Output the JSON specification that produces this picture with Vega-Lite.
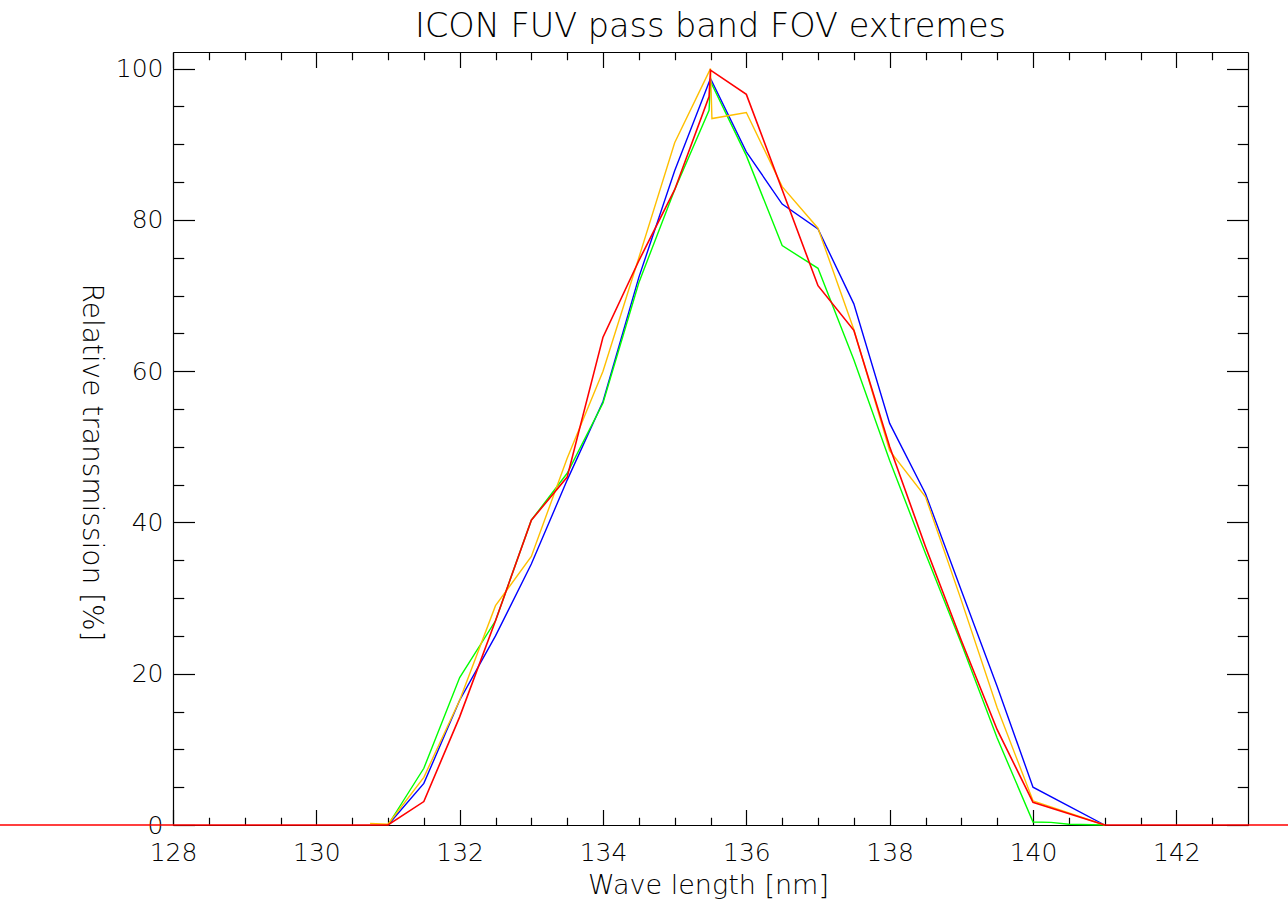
{
  "$schema": "https://vega.github.io/schema/vega-lite/v6.json",
  "width": 1075,
  "height": 773,
  "autosize": {"type": "none"},
  "padding": {"left": 173, "top": 52, "right": 40, "bottom": 78},
  "background": "white",
  "title": {"text": "ICON FUV pass band FOV extremes", "anchor": "middle", "fontSize": 33.5, "font": "DejaVu Sans", "fontWeight": 200, "color": "#000000", "offset": 7},
  "config": {
    "view": {"stroke": null},
    "axis": {"grid": false, "domainColor": "#000000", "tickColor": "#000000", "labelColor": "#000000", "titleColor": "#000000", "labelFont": "DejaVu Sans", "titleFont": "DejaVu Sans", "labelFontWeight": 200, "titleFontWeight": 200, "labelFontSize": 25, "titleFontSize": 27, "domainWidth": 1.2, "tickWidth": 1.2, "labelOverlap": false, "labelFlush": false}
  },
  "datasets": {
    "blue": [
      {"wavelength": 131, "transmission": 0}, {"wavelength": 131.5, "transmission": 5.5}, {"wavelength": 132, "transmission": 16.5}, {"wavelength": 132.5, "transmission": 25.0}, {"wavelength": 133, "transmission": 34.5}, {"wavelength": 133.5, "transmission": 45.6}, {"wavelength": 134, "transmission": 56.0}, {"wavelength": 134.5, "transmission": 72.4}, {"wavelength": 135, "transmission": 86.5}, {"wavelength": 135.5, "transmission": 98.7}, {"wavelength": 136, "transmission": 89.0}, {"wavelength": 136.5, "transmission": 82.1}, {"wavelength": 137, "transmission": 78.8}, {"wavelength": 137.5, "transmission": 68.9}, {"wavelength": 138, "transmission": 53.1}, {"wavelength": 138.5, "transmission": 43.8}, {"wavelength": 139, "transmission": 31.0}, {"wavelength": 139.5, "transmission": 18.3}, {"wavelength": 140, "transmission": 5.0}, {"wavelength": 140.5, "transmission": 2.5}, {"wavelength": 141, "transmission": 0}
    ],
    "green": [
      {"wavelength": 131, "transmission": 0}, {"wavelength": 131.5, "transmission": 7.5}, {"wavelength": 132, "transmission": 19.5}, {"wavelength": 132.5, "transmission": 27.0}, {"wavelength": 133, "transmission": 40.3}, {"wavelength": 133.5, "transmission": 46.5}, {"wavelength": 134, "transmission": 55.8}, {"wavelength": 134.5, "transmission": 71.7}, {"wavelength": 135, "transmission": 84.0}, {"wavelength": 135.48, "transmission": 94.5}, {"wavelength": 135.5, "transmission": 98.3}, {"wavelength": 136, "transmission": 88.5}, {"wavelength": 136.5, "transmission": 76.6}, {"wavelength": 137, "transmission": 73.6}, {"wavelength": 137.5, "transmission": 61.5}, {"wavelength": 138, "transmission": 48.2}, {"wavelength": 138.5, "transmission": 35.9}, {"wavelength": 139, "transmission": 24.0}, {"wavelength": 139.5, "transmission": 11.5}, {"wavelength": 140, "transmission": 0.4}, {"wavelength": 140.25, "transmission": 0.35}, {"wavelength": 140.5, "transmission": 0.1}, {"wavelength": 141, "transmission": 0}
    ],
    "orange": [
      {"wavelength": 130.75, "transmission": 0.2}, {"wavelength": 131, "transmission": 0.1}, {"wavelength": 131.5, "transmission": 6.3}, {"wavelength": 132, "transmission": 16.5}, {"wavelength": 132.5, "transmission": 29.0}, {"wavelength": 133, "transmission": 35.5}, {"wavelength": 133.5, "transmission": 48.5}, {"wavelength": 134, "transmission": 60.0}, {"wavelength": 134.5, "transmission": 75.0}, {"wavelength": 135, "transmission": 90.2}, {"wavelength": 135.5, "transmission": 100.0}, {"wavelength": 135.52, "transmission": 93.4}, {"wavelength": 136, "transmission": 94.2}, {"wavelength": 136.5, "transmission": 84.4}, {"wavelength": 137, "transmission": 78.9}, {"wavelength": 137.5, "transmission": 65.5}, {"wavelength": 138, "transmission": 49.5}, {"wavelength": 138.5, "transmission": 43.4}, {"wavelength": 139, "transmission": 29.7}, {"wavelength": 139.5, "transmission": 15.5}, {"wavelength": 140, "transmission": 3.2}, {"wavelength": 141, "transmission": 0}
    ],
    "red": [
      {"wavelength": 120, "transmission": 0}, {"wavelength": 131, "transmission": 0}, {"wavelength": 131.5, "transmission": 3.1}, {"wavelength": 132, "transmission": 14.3}, {"wavelength": 132.5, "transmission": 27.0}, {"wavelength": 133, "transmission": 40.3}, {"wavelength": 133.5, "transmission": 46.0}, {"wavelength": 134, "transmission": 64.5}, {"wavelength": 134.5, "transmission": 74.6}, {"wavelength": 135, "transmission": 84.0}, {"wavelength": 135.48, "transmission": 96.3}, {"wavelength": 135.5, "transmission": 99.8}, {"wavelength": 136, "transmission": 96.6}, {"wavelength": 136.5, "transmission": 84.0}, {"wavelength": 137, "transmission": 71.3}, {"wavelength": 137.5, "transmission": 65.4}, {"wavelength": 138, "transmission": 50.0}, {"wavelength": 138.5, "transmission": 36.8}, {"wavelength": 139, "transmission": 24.4}, {"wavelength": 139.5, "transmission": 12.6}, {"wavelength": 140, "transmission": 3.0}, {"wavelength": 141, "transmission": 0}, {"wavelength": 150, "transmission": 0}
    ]
  },
  "layer": [
    {
      "data": {"name": "blue"},
      "mark": {"type": "line", "color": "#0000ff", "strokeWidth": 1.4},
      "encoding": {
        "x": {"field": "wavelength", "type": "quantitative", "scale": {"domain": [128, 143], "nice": false, "zero": false},
          "axis": {"orient": "bottom", "values": [128, 130, 132, 134, 136, 138, 140, 142], "format": "d", "tickSize": -15.5, "labelPadding": 31, "labelBaseline": "top", "title": "Wave length [nm]", "titleX": 535, "titleY": 60, "titleAlign": "center", "titleBaseline": "middle", "titleAnchor": null}},
        "y": {"field": "transmission", "type": "quantitative", "scale": {"domain": [0, 102.2], "nice": false, "zero": false},
          "axis": {"orient": "left", "values": [0, 20, 40, 60, 80, 100], "format": "d", "tickSize": -21.5, "labelPadding": 31.5, "labelBaseline": "middle", "title": "Relative transmission [%]", "titleFontSize": 28, "titleAngle": 90, "titleX": -83, "titleY": 410, "titleAlign": "center", "titleBaseline": "middle", "titleAnchor": null}}
      }
    },
    {
      "data": {"name": "green"},
      "mark": {"type": "line", "color": "#00ff00", "strokeWidth": 1.4},
      "encoding": {
        "x": {"field": "wavelength", "type": "quantitative", "scale": {"domain": [128, 143], "nice": false, "zero": false},
          "axis": {"orient": "bottom", "values": [128.5, 129, 129.5, 130.5, 131, 131.5, 132.5, 133, 133.5, 134.5, 135, 135.5, 136.5, 137, 137.5, 138.5, 139, 139.5, 140.5, 141, 141.5, 142.5], "tickSize": -7.75, "labels": false, "domain": false, "title": null}},
        "y": {"field": "transmission", "type": "quantitative", "scale": {"domain": [0, 102.2], "nice": false, "zero": false},
          "axis": {"orient": "left", "values": [5, 10, 15, 25, 30, 35, 45, 50, 55, 65, 70, 75, 85, 90, 95], "tickSize": -10.75, "labels": false, "domain": false, "title": null}}
      }
    },
    {
      "data": {"name": "orange"},
      "mark": {"type": "line", "color": "#ffbf00", "strokeWidth": 1.4},
      "encoding": {
        "x": {"field": "wavelength", "type": "quantitative", "scale": {"domain": [128, 143], "nice": false, "zero": false},
          "axis": {"orient": "top", "values": [128, 130, 132, 134, 136, 138, 140, 142], "tickSize": -15.5, "labels": false, "title": null}},
        "y": {"field": "transmission", "type": "quantitative", "scale": {"domain": [0, 102.2], "nice": false, "zero": false},
          "axis": {"orient": "right", "values": [0, 20, 40, 60, 80, 100], "tickSize": -21.5, "labels": false, "title": null}}
      }
    },
    {
      "data": {"name": "red"},
      "mark": {"type": "line", "color": "#ff0000", "strokeWidth": 1.6},
      "encoding": {
        "x": {"field": "wavelength", "type": "quantitative", "scale": {"domain": [128, 143], "nice": false, "zero": false},
          "axis": {"orient": "top", "values": [128.5, 129, 129.5, 130.5, 131, 131.5, 132.5, 133, 133.5, 134.5, 135, 135.5, 136.5, 137, 137.5, 138.5, 139, 139.5, 140.5, 141, 141.5, 142.5], "tickSize": -7.75, "labels": false, "domain": false, "title": null}},
        "y": {"field": "transmission", "type": "quantitative", "scale": {"domain": [0, 102.2], "nice": false, "zero": false},
          "axis": {"orient": "right", "values": [5, 10, 15, 25, 30, 35, 45, 50, 55, 65, 70, 75, 85, 90, 95], "tickSize": -10.75, "labels": false, "domain": false, "title": null}}
      }
    }
  ],
  "resolve": {"axis": {"x": "independent", "y": "independent"}}
}
